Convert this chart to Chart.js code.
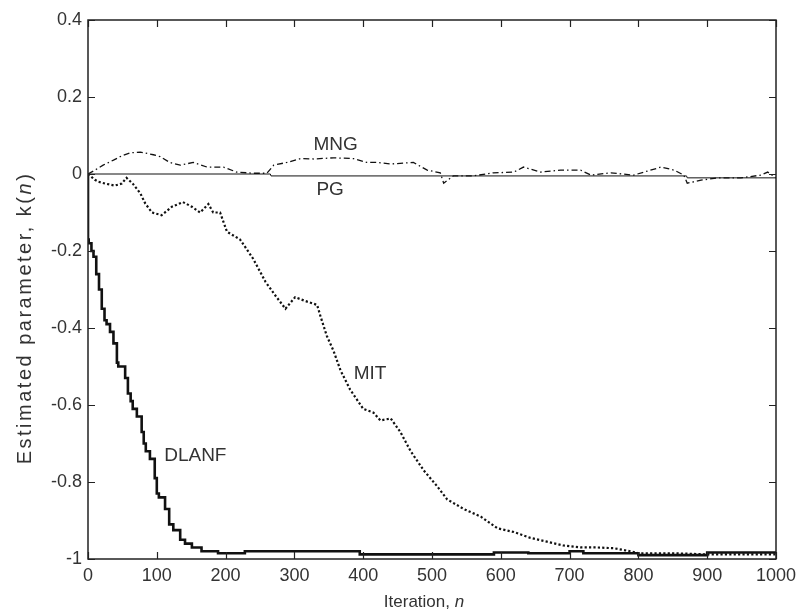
<!DOCTYPE html>
<html>
<head>
<meta charset="utf-8">
<title>Estimated parameter k(n)</title>
<script src="https://cdn.jsdelivr.net/npm/chart.js@4.4.1/dist/chart.umd.min.js"></script>
<style>
  html, body { margin: 0; padding: 0; background: #fff; }
  #wrap { width: 798px; height: 615px; position: relative; }
</style>
</head>
<body>
<div id="wrap"><canvas id="chart" width="798" height="615"></canvas></div>
<script>
// axis ticks
const xTicks = [0, 100, 200, 300, 400, 500, 600, 700, 800, 900, 1000];
const xTickLabels = ['0', '100', '200', '300', '400', '500', '600', '700', '800', '900', '1000'];
const yTicks = [-1, -0.8, -0.6, -0.4, -0.2, 0, 0.2, 0.4];
const yTickLabels = ['-1', '-0.8', '-0.6', '-0.4', '-0.2', '0', '0.2', '0.4'];

// DLANF estimate
const dlanfN = [0, 1, 5, 8, 12, 16, 20, 24, 27, 32, 37, 42, 44, 54, 58, 62, 65, 71, 78, 81, 84, 90, 97, 100, 103, 112, 118, 124, 134, 141, 151, 165, 189, 228, 395, 590, 640, 700, 720, 800, 900, 920, 1000];
const dlanfK = [0, -0.17, -0.18, -0.2, -0.215, -0.26, -0.3, -0.35, -0.38, -0.39, -0.41, -0.44, -0.49, -0.5, -0.53, -0.57, -0.59, -0.61, -0.63, -0.67, -0.7, -0.72, -0.74, -0.79, -0.83, -0.84, -0.87, -0.91, -0.925, -0.95, -0.96, -0.97, -0.98, -0.985, -0.98, -0.988, -0.983, -0.985, -0.98, -0.985, -0.99, -0.983, -0.983];

// MIT estimate
const mitN = [0, 10, 15, 25, 39, 49, 56, 65, 76, 83, 93, 107, 122, 138, 151, 163, 175, 182, 192, 202, 221, 240, 258, 272, 287, 301, 316, 333, 338, 347, 357, 367, 381, 400, 415, 425, 440, 454, 469, 488, 507, 522, 546, 571, 595, 619, 643, 667, 691, 716, 740, 764, 789, 800, 850, 900, 1000];
const mitK = [0, -0.015, -0.02, -0.025, -0.03, -0.025, -0.01, -0.025, -0.05, -0.076, -0.1, -0.107, -0.085, -0.073, -0.085, -0.1, -0.078, -0.1, -0.1, -0.15, -0.17, -0.22, -0.28, -0.315, -0.35, -0.32, -0.33, -0.34, -0.37, -0.42, -0.46, -0.51, -0.56, -0.61, -0.62, -0.64, -0.635, -0.67, -0.72, -0.77, -0.81, -0.845, -0.87, -0.89, -0.92, -0.93, -0.945, -0.955, -0.965, -0.97, -0.97, -0.972, -0.98, -0.985, -0.985, -0.988, -0.988];

// MNG estimate
const mngN = [0, 10, 22, 37, 50, 61, 76, 95, 105, 119, 134, 153, 173, 197, 216, 240, 260, 270, 289, 309, 328, 357, 386, 405, 420, 440, 473, 493, 512, 517, 531, 560, 589, 619, 633, 658, 687, 716, 731, 760, 793, 808, 833, 852, 866, 871, 891, 915, 949, 978, 988, 1000];
const mngK = [0, 0.01, 0.023, 0.036, 0.048, 0.055, 0.057, 0.05, 0.045, 0.03, 0.023, 0.03, 0.018, 0.018, 0.005, 0.002, 0.002, 0.023, 0.03, 0.04, 0.039, 0.042, 0.04, 0.03, 0.03, 0.026, 0.03, 0.01, 0.003, -0.024, -0.005, -0.005, 0.003, 0.005, 0.018, 0.005, 0.01, 0.01, -0.003, 0.003, -0.003, 0.005, 0.018, 0.01, -0.003, -0.024, -0.016, -0.01, -0.01, -0.003, 0.005, -0.01];

// PG estimate
const pgN = [0, 265, 266, 870, 871, 1000];
const pgK = [0, 0, -0.005, -0.005, -0.01, -0.01];

// curve labels placed in data coordinates
const curveLabels = [
  { text: 'MNG', n: 360, k: 0.075 },
  { text: 'PG', n: 352, k: -0.042 },
  { text: 'MIT', n: 410, k: -0.52 },
  { text: 'DLANF', n: 156, k: -0.733 }
];

const FONT = '"Liberation Sans", Arial, sans-serif';
const INK = '#111';
const TEXT = '#333';

const pts = (xs, ys) => xs.map((x, i) => ({ x, y: ys[i] }));

// box, inward ticks, curve labels and axis titles
const matlabFrame = {
  id: 'matlabFrame',
  afterDatasetsDraw(chart) {
    const { ctx, chartArea: a, scales: { x, y } } = chart;
    const tl = 7;
    ctx.save();
    ctx.strokeStyle = '#222';
    ctx.lineWidth = 1.5;
    ctx.strokeRect(a.left, a.top, a.right - a.left, a.bottom - a.top);
    ctx.lineWidth = 1.2;
    ctx.beginPath();
    xTicks.forEach(v => {
      const px = Math.round(x.getPixelForValue(v)) + 0.5;
      ctx.moveTo(px, a.bottom); ctx.lineTo(px, a.bottom - tl);
      ctx.moveTo(px, a.top); ctx.lineTo(px, a.top + tl);
    });
    yTicks.forEach(v => {
      const py = Math.round(y.getPixelForValue(v)) + 0.5;
      ctx.moveTo(a.left, py); ctx.lineTo(a.left + tl, py);
      ctx.moveTo(a.right, py); ctx.lineTo(a.right - tl, py);
    });
    ctx.stroke();

    ctx.fillStyle = TEXT;
    ctx.font = '19px ' + FONT;
    ctx.textAlign = 'center';
    ctx.textBaseline = 'middle';
    curveLabels.forEach(l => {
      ctx.fillText(l.text, x.getPixelForValue(l.n), y.getPixelForValue(l.k));
    });

    // mixed upright / italic text centred at (cx, cy)
    const drawMixed = (parts, cx, cy) => {
      let w = 0;
      parts.forEach(p => { ctx.font = p.f; w += ctx.measureText(p.t).width; });
      let cur = cx - w / 2;
      ctx.textAlign = 'left';
      parts.forEach(p => {
        ctx.font = p.f;
        ctx.fillText(p.t, cur, cy);
        cur += ctx.measureText(p.t).width;
      });
    };
    drawMixed([
      { t: 'Iteration, ', f: '17px ' + FONT },
      { t: 'n', f: 'italic 17px ' + FONT }
    ], 424, 602);

    ctx.save();
    ctx.translate(25, 318);
    ctx.rotate(-Math.PI / 2);
    ctx.letterSpacing = '2.5px';
    drawMixed([
      { t: 'Estimated parameter, k(', f: '20px ' + FONT },
      { t: 'n', f: 'italic 20px ' + FONT },
      { t: ')', f: '20px ' + FONT }
    ], 0, 0);
    ctx.restore();
    ctx.restore();
  }
};

const line = (label, xs, ys, width, dash, stepped) => ({
  label,
  data: pts(xs, ys),
  borderColor: INK,
  borderWidth: width,
  borderDash: dash,
  stepped,
  pointRadius: 0,
  fill: false,
  tension: 0
});

new Chart(document.getElementById('chart'), {
  type: 'line',
  data: {
    datasets: [
      line('PG', pgN, pgK, 1, [], false),
      line('MNG', mngN, mngK, 1.3, [6, 3, 1.5, 3], false),
      line('MIT', mitN, mitK, 2.2, [2.2, 2.2], false),
      line('DLANF', dlanfN, dlanfK, 2.6, [], 'after')
    ]
  },
  options: {
    responsive: false,
    animation: false,
    devicePixelRatio: 1,
    layout: { padding: { left: 0, right: 22, top: 20, bottom: 0 } },
    plugins: { legend: { display: false }, tooltip: { enabled: false } },
    scales: {
      x: {
        type: 'linear',
        min: 0,
        max: 1000,
        grid: { display: false, drawTicks: false },
        border: { display: false },
        afterBuildTicks: s => { s.ticks = xTicks.map(v => ({ value: v })); },
        afterFit: s => { s.height = 56; s.paddingLeft = 0; s.paddingRight = 0; },
        ticks: {
          padding: 6,
          autoSkip: false,
          color: TEXT,
          font: { family: FONT, size: 18 },
          maxRotation: 0,
          callback: (v) => xTickLabels[xTicks.indexOf(v)]
        }
      },
      y: {
        type: 'linear',
        min: -1,
        max: 0.4,
        grid: { display: false, drawTicks: false },
        border: { display: false },
        afterBuildTicks: s => { s.ticks = yTicks.map(v => ({ value: v })); },
        afterFit: s => { s.width = 88; s.paddingTop = 0; s.paddingBottom = 0; },
        ticks: {
          padding: 6,
          autoSkip: false,
          color: TEXT,
          font: { family: FONT, size: 18 },
          callback: (v) => yTickLabels[yTicks.indexOf(v)]
        }
      }
    }
  },
  plugins: [matlabFrame]
});
</script>
</body>
</html>
